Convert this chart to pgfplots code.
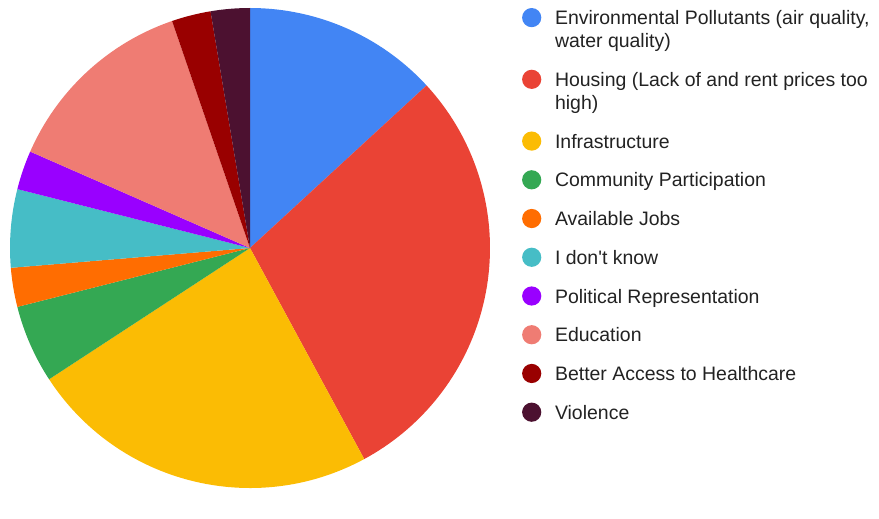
\documentclass[border=0pt]{standalone}
\usepackage{pgfplots}
\pgfplotsset{compat=1.18}
\usepackage{pgfplotstable}
\usepackage{fontspec}
\setmainfont{Liberation Sans}
\definecolor{cEnv}{HTML}{4285F4}
\definecolor{cHousing}{HTML}{EA4335}
\definecolor{cInfra}{HTML}{FBBC04}
\definecolor{cComm}{HTML}{34A853}
\definecolor{cJobs}{HTML}{FF6D01}
\definecolor{cDK}{HTML}{46BDC6}
\definecolor{cPol}{HTML}{9900FF}
\definecolor{cEdu}{HTML}{EF7C73}
\definecolor{cHealth}{HTML}{990000}
\definecolor{cViol}{HTML}{4C1130}
\definecolor{legtext}{HTML}{222222}

\pgfplotstableread{
value color
5 cEnv
11 cHousing
9 cInfra
2 cComm
1 cJobs
2 cDK
1 cPol
5 cEdu
1 cHealth
1 cViol
}\piedata

\newcommand\entry[1]{\parbox[t]{236pt}{\raggedright\strut #1\strut}}
\newcommand\legdot[1]{\addlegendimage{legend image code/.code={\fill[overlay,draw=none,#1] (7.5pt,5.25pt) circle (7.2pt); \path[draw=none,fill=none] (0pt,0pt) rectangle (15pt,5pt);}}}

\begin{document}
\begin{tikzpicture}
\begin{axis}[
  scale only axis,
  width=659.25pt, height=368.25pt,
  xmin=0, xmax=879, ymin=0, ymax=491,
  hide axis, clip=false,
  legend style={draw=none, fill=none, inner sep=0pt, outer sep=0pt,
    at={(axis cs:521.7,482.5)}, anchor=north west,
    row sep=11.8pt, column sep=10pt,
    nodes={inner sep=0pt, outer sep=0pt, text depth=, text height=},
    cells={anchor=base west},
    font=\fontsize{14.6}{17.25}\selectfont, text=legtext},
]
\path[draw=none] (axis cs:0,0) rectangle (axis cs:879,491);
\pgfplotstablegetrowsof{\piedata}
\pgfmathtruncatemacro\nrows{\pgfplotsretval-1}
\gdef\total{0}
\foreach \i in {0,...,\nrows}{
  \pgfplotstablegetelem{\i}{value}\of\piedata
  \pgfmathsetmacro\tmpt{\total+\pgfplotsretval}
  \global\let\total\tmpt
}
\gdef\cum{0}
\foreach \i in {0,...,\nrows}{
  \pgfplotstablegetelem{\i}{value}\of\piedata
  \pgfmathsetmacro\val{\pgfplotsretval}
  \pgfplotstablegetelem{\i}{color}\of\piedata
  \let\clr\pgfplotsretval
  \pgfmathsetmacro\sa{90-360*\cum/\total}
  \pgfmathsetmacro\ea{90-360*(\cum+\val)/\total}
  \edef\temp{\noexpand\fill[\clr] (axis cs:250,243) -- (axis cs:{250+240*cos(\sa)},{243+240*sin(\sa)}) arc[start angle=\sa, end angle=\ea, radius=180pt] -- cycle;}
  \temp
  \pgfmathsetmacro\newcum{\cum+\val}
  \global\let\cum\newcum
}
\legdot{cEnv}\addlegendentry{\entry{Environmental Pollutants (air quality,\\ water quality)}}
\legdot{cHousing}\addlegendentry{\entry{Housing (Lack of and rent prices too\\ high)}}
\legdot{cInfra}\addlegendentry{\entry{Infrastructure}}
\legdot{cComm}\addlegendentry{\entry{Community Participation}}
\legdot{cJobs}\addlegendentry{\entry{Available Jobs}}
\legdot{cDK}\addlegendentry{\entry{I don\textquotesingle t know}}
\legdot{cPol}\addlegendentry{\entry{Political Representation}}
\legdot{cEdu}\addlegendentry{\entry{Education}}
\legdot{cHealth}\addlegendentry{\entry{Better Access to Healthcare}}
\legdot{cViol}\addlegendentry{\entry{Violence}}
\end{axis}
\end{tikzpicture}
\end{document}
